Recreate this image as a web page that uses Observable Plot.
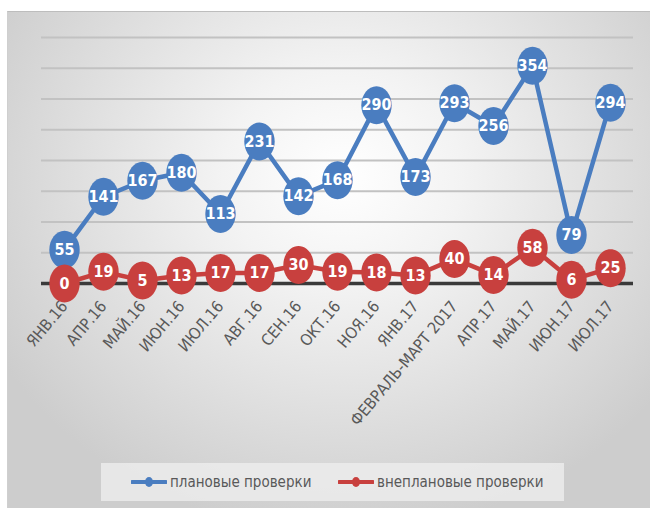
<!DOCTYPE html>
<html>
<head>
<meta charset="utf-8">
<script src="https://cdn.jsdelivr.net/npm/d3@7"></script>
<script src="https://cdn.jsdelivr.net/npm/@observablehq/plot@0.6"></script>
<style>
  html, body { margin: 0; padding: 0; background: #ffffff; width: 650px; height: 508px; overflow: hidden; }
  #panel {
    position: absolute; left: 7px; top: 11px; width: 643px; height: 497px;
    background: radial-gradient(ellipse 62% 72% at 52% 33%, #ffffff 0%, #f3f3f3 30%, #dcdcdc 72%, #cdcdcd 100%);
    border-top: 1px solid #bdbdbd; border-left: 1px solid #cfcfcf;
  }
  #chart { position: absolute; left: 0; top: 0; }
  #legend {
    position: absolute; left: 93px; top: 451px; width: 463px; height: 38px;
    background: rgba(238,238,238,0.8);
    font-family: "Liberation Sans Narrow", "DejaVu Sans Condensed", "Roboto", sans-serif;
    font-size: 15px; color: #595959;
  }
  .item { position: absolute; top: 0; height: 38px; display: flex; align-items: center; white-space: nowrap; }
  .item svg { margin-right: 3px; }
</style>
</head>
<body>
<div id="panel">
  <div id="chart"></div>
  <div id="legend"></div>
</div>
<script>
const months = ["ЯНВ.16","АПР.16","МАЙ.16","ИЮН.16","ИЮЛ.16","АВГ.16","СЕН.16","ОКТ.16","НОЯ.16","ЯНВ.17","ФЕВРАЛЬ-МАРТ 2017","АПР.17","МАЙ.17","ИЮН.17","ИЮЛ.17"];
const planned = [55, 141, 167, 180, 113, 231, 142, 168, 290, 173, 293, 256, 354, 79, 294];
const unplanned = [0, 19, 5, 13, 17, 17, 30, 19, 18, 13, 40, 14, 58, 6, 25];
const seriesNames = ["плановые проверки", "внеплановые проверки"];
const gridTicks = [50, 100, 150, 200, 250, 300, 350, 400];

const blue = "#4a7dc0";
const red = "#c8403e";
const font = "'Liberation Sans Narrow', 'DejaVu Sans Condensed', sans-serif";

const dPlanned = months.map((m, i) => ({month: m, value: planned[i]}));
const dUnplanned = months.map((m, i) => ({month: m, value: unplanned[i]}));

// slightly tall ellipse marker
const ellipse = {
  draw(ctx, size) {
    const ry = Math.sqrt(size / Math.PI);
    const rx = ry * 0.8;
    const k = 0.5523;
    ctx.moveTo(rx, 0);
    ctx.bezierCurveTo(rx, ry * k, rx * k, ry, 0, ry);
    ctx.bezierCurveTo(-rx * k, ry, -rx, ry * k, -rx, 0);
    ctx.bezierCurveTo(-rx, -ry * k, -rx * k, -ry, 0, -ry);
    ctx.bezierCurveTo(rx * k, -ry, rx, -ry * k, rx, 0);
    ctx.closePath();
  }
};

function seriesMarks(data, color) {
  return [
    Plot.line(data, {x: "month", y: "value", stroke: color, strokeWidth: 4.5}),
    Plot.dot(data, {x: "month", y: "value", symbol: ellipse, r: 19, fill: color, stroke: "none"}),
    Plot.text(data, {x: "month", y: "value", text: d => String(d.value), fill: "white",
      fontSize: 16, fontWeight: "bold", fontFamily: font})
  ];
}

const plot = Plot.plot({
  width: 643,
  height: 450,
  marginTop: 25,
  marginBottom: 179,
  marginLeft: 33,
  marginRight: 18,
  style: {background: "transparent", color: "#595959", fontFamily: font, overflow: "visible"},
  x: {type: "point", domain: months, padding: 0.5, label: null},
  y: {domain: [0, 400], axis: null},
  marks: [
    Plot.ruleY(gridTicks, {stroke: "#c2c2c2", strokeWidth: 2}),
    Plot.ruleY([0], {stroke: "#3a3a3a", strokeWidth: 3.5}),
    Plot.axisX({tickRotate: -50, tickSize: 0, tickPadding: 20, fontSize: 16, label: null}),
    ...seriesMarks(dPlanned, blue),
    ...seriesMarks(dUnplanned, red)
  ]
});
document.getElementById("chart").appendChild(plot);

// legend
const legend = document.getElementById("legend");
const itemLeft = [30, 237];
[blue, red].forEach((c, i) => {
  const div = document.createElement("div");
  div.className = "item";
  div.style.left = itemLeft[i] + "px";
  div.innerHTML = `<svg width="36" height="12"><line x1="1" y1="6" x2="35" y2="6" stroke="${c}" stroke-width="4" stroke-linecap="round"/><ellipse cx="18" cy="6" rx="4" ry="5" fill="${c}"/></svg><span>${seriesNames[i]}</span>`;
  legend.appendChild(div);
});
</script>
</body>
</html>
